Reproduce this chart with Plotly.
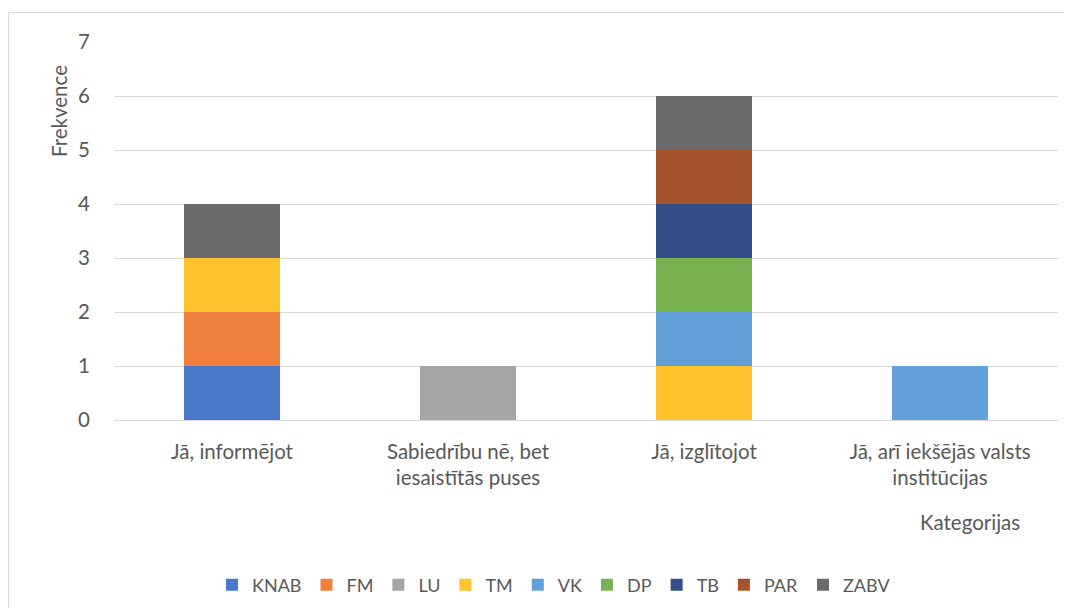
import plotly.graph_objects as go

categories = ["Jā, informējot", "Sabiedrību nē, bet<br>iesaistītās puses", "Jā, izglītojot", "Jā, arī iekšējās valsts<br>institūcijas"]
series_names = ["KNAB", "FM", "LU", "TM", "VK", "DP", "TB", "PAR", "ZABV"]
knab = [1, 0, 0, 0]
fm = [1, 0, 0, 0]
lu = [0, 1, 0, 0]
tm = [1, 0, 1, 0]
vk = [0, 0, 1, 1]
dp = [0, 0, 1, 0]
tb = [0, 0, 1, 0]
par = [0, 0, 1, 0]
zabv = [1, 0, 1, 0]
series_values = [knab, fm, lu, tm, vk, dp, tb, par, zabv]
colors = ["#4C78CA", "#F0813C", "#A5A5A5", "#FFC12C", "#62A0DA", "#77B24F", "#334E86", "#A4532D", "#6B6B6B"]
y_ticks = [0, 1, 2, 3, 4, 5, 6, 7]

FONT = "Lato"
TXT = "#595959"

# page has an 8px body margin; figure coords = page coords - 8
OFF = 8
L, T = 114 - OFF, 42 - OFF
PW, PH = 944, 378
W, H = 1072 - 2 * OFF, 616 - 2 * OFF


def px(xp):
    return (xp - OFF - L) / PW


def py(yp):
    return (T + PH - (yp - OFF)) / PH


fig = go.Figure()
for name, vals, col in zip(series_names, series_values, colors):
    fig.add_trace(go.Bar(
        name=name, x=categories, y=vals,
        marker=dict(color=col, line=dict(width=0)),
    ))

fig.update_layout(
    barmode="stack",
    bargap=0.593,
    width=W, height=H,
    margin=dict(l=L, r=W - L - PW, t=T, b=H - T - PH, autoexpand=False),
    paper_bgcolor="white", plot_bgcolor="white",
    font=dict(family=FONT, size=20, color=TXT),
    showlegend=True,
    legend=dict(
        orientation="h", x=px(554), xanchor="center", y=py(585), yanchor="middle",
        font=dict(family=FONT, size=18, color=TXT),
        traceorder="normal", itemwidth=30,
    ),
    xaxis=dict(
        showgrid=False, showline=False, zeroline=False,
        ticks="outside", ticklen=13, tickcolor="rgba(0,0,0,0)",
        tickfont=dict(family=FONT, size=20.5, color=TXT),
    ),
    yaxis=dict(
        range=[0, 7], tickvals=y_ticks,
        showgrid=True, gridcolor="#D9D9D9", gridwidth=1,
        zeroline=True, zerolinecolor="#D9D9D9", zerolinewidth=1,
        showline=False,
        ticks="outside", ticklen=19, tickcolor="rgba(0,0,0,0)",
        tickfont=dict(family=FONT, size=20.5, color=TXT),
    ),
    annotations=[
        dict(text="Frekvence", x=px(59), y=py(111),
             xref="paper", yref="paper", showarrow=False, textangle=-90,
             xanchor="center", yanchor="middle",
             font=dict(family=FONT, size=20.5, color=TXT)),
        dict(text="Kategorijas", x=px(970), y=py(522),
             xref="paper", yref="paper", showarrow=False,
             xanchor="center", yanchor="middle",
             font=dict(family=FONT, size=20.5, color=TXT)),
    ],
    shapes=[
        dict(type="line", xref="paper", yref="paper",
             x0=px(8.5), x1=px(1090), y0=py(12.5), y1=py(12.5),
             line=dict(color="#D9D9D9", width=1)),
        dict(type="line", xref="paper", yref="paper",
             x0=px(8.5), x1=px(8.5), y0=py(12.5), y1=py(640),
             line=dict(color="#D9D9D9", width=1)),
    ],
)

fig.write_html("out.html")
